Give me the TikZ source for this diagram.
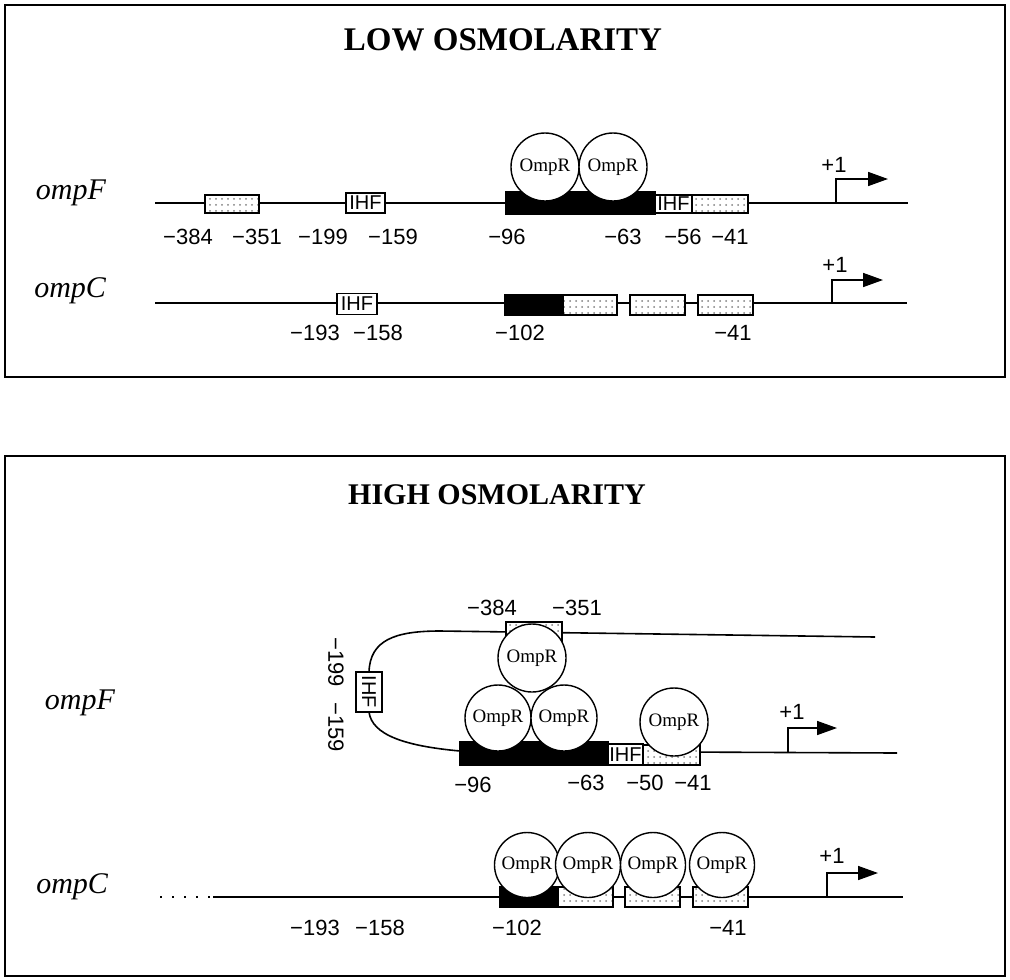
\documentclass[tikz,border=0pt]{standalone}
\usepackage{fontspec}
\setmainfont{Liberation Serif}
\setsansfont{Liberation Sans}
\usetikzlibrary{arrows.meta,patterns}
\begin{document}
\begin{tikzpicture}[x=0.5pt,y=-0.5pt,
 panel/.style={draw, line width=1pt},
 dna/.style={line width=0.8pt},
 seg/.style={draw, line width=0.7pt, inner sep=0pt, outer sep=0pt, minimum height=9.5pt},
 blackseg/.style={seg, fill=black, minimum height=11pt},
 dotseg/.style={seg, preaction={fill=white}, pattern=dots, pattern color=black!50},
 ihf/.style={seg, fill=white, font=\sffamily\fontsize{10}{10}\selectfont},
 ompr/.style={circle, draw, line width=0.7pt, fill=white, inner sep=0pt, minimum size=34pt, font=\fontsize{9.5}{10}\selectfont},
 poslbl/.style={font=\sffamily\fontsize{11}{12}\selectfont},
 gene/.style={font=\itshape\fontsize{15}{17}\selectfont, anchor=base east},
 ttl/.style={font=\bfseries\fontsize{15}{18}\selectfont},
 prom/.style={line width=0.8pt, -{Triangle[length=10pt,width=7pt]}},
]
\useasboundingbox (0,0) rectangle (1010,979);
% panels
\draw[panel] (5,5) rectangle (1005,377);
\draw[panel] (5,456) rectangle (1005,976);
\node[ttl, font=\bfseries\fontsize{16.5}{18}\selectfont] (tlow) at (503,40) {LOW OSMOLARITY};
\node[ttl] (thigh) at (497,495) {HIGH OSMOLARITY};

%% ---------------- LOW: ompF ----------------
\node[gene] (gF1) at (113,199) {ompF};
\coordinate (F1s) at (155,203);
\coordinate (F1e) at (908,203);
\draw[dna] (F1s) -- (F1e);
\node[dotseg, minimum width=27pt, minimum height=9pt] (F1d1) at (232,204) {};
\node[ihf, minimum width=19.5pt, minimum height=10pt] (F1i1) at (365.5,203) {IHF};
\node[blackseg, minimum width=74.5pt] (F1b) at (580.5,203) {};
\node[ihf, minimum width=18.5pt, minimum height=9pt] (F1i2) at (673.5,204) {IHF};
\node[dotseg, minimum width=28pt, minimum height=9pt] (F1d2) at (720,204) {};
\node[ompr] (F1o1) at (545,167) {OmpR};
\node[ompr] (F1o2) at (613,167) {OmpR};
\coordinate (F1p) at (836,203);
\coordinate (F1a) at (888,179);
\draw[prom] (F1p) |- (F1a);
\node[poslbl] (F1plus) at (834,165) {+1};
\node[poslbl] (l1) at (188,237) {−384};
\node[poslbl] (l2) at (257,237) {−351};
\node[poslbl] (l3) at (323,237) {−199};
\node[poslbl] (l4) at (393,237) {−159};
\node[poslbl] (l5) at (507,237) {−96};
\node[poslbl] (l6) at (623,237) {−63};
\node[poslbl] (l7) at (683,237) {−56};
\node[poslbl] (l8) at (730,237) {−41};

%% ---------------- LOW: ompC ----------------
\node[gene] (gC1) at (113,297) {ompC};
\coordinate (C1s) at (155,303);
\coordinate (C1e) at (907,303);
\draw[dna] (C1s) -- (C1e);
\node[ihf, minimum width=20pt, minimum height=10.5pt] (C1i) at (357,304) {IHF};
\node[blackseg, minimum width=29pt, minimum height=10pt] (C1b) at (534,305) {};
\node[dotseg, minimum width=27pt, minimum height=10pt] (C1d1) at (590,305) {};
\node[dotseg, minimum width=27.5pt, minimum height=10pt] (C1d2) at (657.5,305) {};
\node[dotseg, minimum width=27.5pt, minimum height=10pt] (C1d3) at (725.5,305) {};
\coordinate (C1p) at (832,303);
\coordinate (C1a) at (883,280);
\draw[prom] (C1p) |- (C1a);
\node[poslbl] (C1plus) at (835,265) {+1};
\node[poslbl] (m1) at (315,333) {−193};
\node[poslbl] (m2) at (378,333) {−158};
\node[poslbl] (m3) at (520,333) {−102};
\node[poslbl] (m4) at (733,333) {−41};

%% ---------------- HIGH: ompF (looped) ----------------
\node[gene] (gF2) at (122,709) {ompF};
\coordinate (lt) at (369,672);
\coordinate (lb) at (369,712);
\coordinate (topE) at (875,637);
\coordinate (botS) at (460,751);
\coordinate (botE) at (897,753);
\draw[dna] (lt) .. controls (370,640) and (395,631) .. (440,631) -- (topE);
\draw[dna] (lb) .. controls (372,735) and (405,746) .. (botS);
\draw[dna] (botS) -- (botE);
\node[ihf, rotate=-90, minimum width=20pt, minimum height=13pt] (F2iv) at (369,692) {IHF};
\node[dotseg, minimum width=28pt, minimum height=10pt] (F2dt) at (534,632) {};
\node[blackseg, minimum width=74pt, minimum height=11.5pt] (F2b) at (534,753.5) {};
\node[ihf, minimum width=17.5pt, minimum height=10.5pt] (F2i) at (625.5,754.5) {IHF};
\node[dotseg, minimum width=28.5pt, minimum height=10pt] (F2d) at (671.5,755) {};
\node[ompr] (F2o1) at (532,658) {OmpR};
\node[ompr, minimum size=33pt] (F2o2) at (498,718) {OmpR};
\node[ompr, minimum size=33pt] (F2o3) at (564,718) {OmpR};
\node[ompr] (F2o4) at (674,722) {OmpR};
\coordinate (F2p) at (788,753);
\coordinate (F2a) at (837,728);
\draw[prom] (F2p) |- (F2a);
\node[poslbl] (F2plus) at (792,712) {+1};
\node[poslbl] (n1) at (492,608) {−384};
\node[poslbl] (n2) at (577,608) {−351};
\node[poslbl, rotate=-90] (n3) at (336,662) {−199};
\node[poslbl, rotate=-90] (n4) at (336,727) {−159};
\node[poslbl] (n5) at (473,785) {−96};
\node[poslbl] (n6) at (586,783) {−63};
\node[poslbl] (n7) at (645,783) {−50};
\node[poslbl] (n8) at (693,783) {−41};

%% ---------------- HIGH: ompC ----------------
\node[gene] (gC2) at (115,893) {ompC};
\coordinate (C2d) at (160,897);
\coordinate (C2s) at (213,897);
\coordinate (C2e) at (903,897);
\draw[line width=0.6pt, dash pattern=on 1pt off 5pt] (C2d) -- (C2s);
\draw[dna] (C2s) -- (C2e);
\node[blackseg, minimum width=29pt, minimum height=10pt] (C2b) at (529,897) {};
\node[dotseg, minimum width=27.5pt, minimum height=10pt] (C2d1) at (585.5,897) {};
\node[dotseg, minimum width=27.5pt, minimum height=10pt] (C2d2) at (652.5,897) {};
\node[dotseg, minimum width=27.5pt, minimum height=10pt] (C2d3) at (720.5,897) {};
\node[ompr, minimum size=32.5pt] (C2o1) at (527,865) {OmpR};
\node[ompr, minimum size=32.5pt] (C2o2) at (588,865) {OmpR};
\node[ompr, minimum size=32.5pt] (C2o3) at (653,865) {OmpR};
\node[ompr, minimum size=32.5pt] (C2o4) at (722,865) {OmpR};
\coordinate (C2p) at (827,897);
\coordinate (C2a) at (878,873);
\draw[prom] (C2p) |- (C2a);
\node[poslbl] (C2plus) at (832,856) {+1};
\node[poslbl] (k1) at (315,928) {−193};
\node[poslbl] (k2) at (380,928) {−158};
\node[poslbl] (k3) at (517,928) {−102};
\node[poslbl] (k4) at (728,928) {−41};
\end{tikzpicture}
\end{document}
